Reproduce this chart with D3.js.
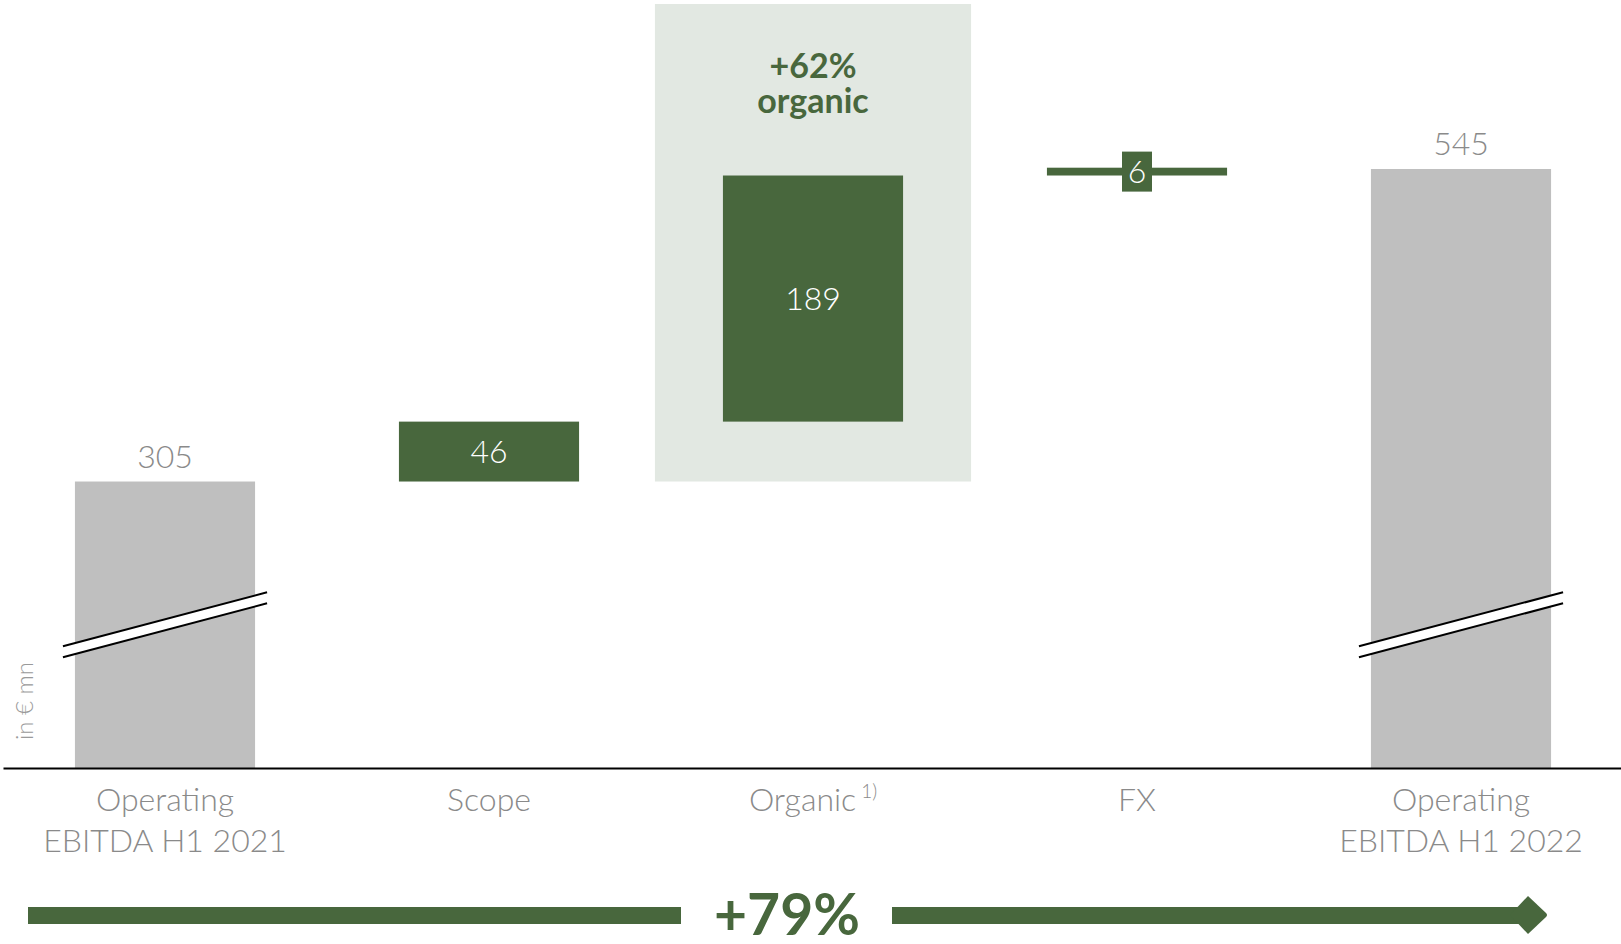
<!DOCTYPE html>
<html>
<head>
<meta charset="utf-8">
<script src="https://cdn.jsdelivr.net/npm/d3@7"></script>
<style>
  body { margin: 0; background: #fff; }
  svg { display: block; }
</style>
</head>
<body>
<div id="chart"></div>
<script>
// Chart data
//=====================================================================
var categories = ["H1 2021", "Scope", "Organic", "FX", "H1 2022"];
var labelLines = [["Operating", "EBITDA H1 2021"], ["Scope"], ["Organic"], ["FX"], ["Operating", "EBITDA H1 2022"]];
var values = [305, 46, 189, 6, 545];
var kinds = ["total", "delta", "delta", "delta", "total"];
var breakAt = [195, 195];   // where the axis-break marks sit on the total bars

var svgWidth = 1621;
var svgHeight = 944;
var green = "#48673d";
var grey = "#bfbfbf";
var textGrey = "#8a8a8a";

var svg = d3.select("#chart")
    .append("svg")
    .attr("width", svgWidth)
    .attr("height", svgHeight);

// Scales (the value axis is truncated, hence the break marks)
//=====================================================================
var x = d3.scaleBand()
    .domain(categories)
    .range([3, 1623])
    .paddingInner(0.444)
    .paddingOuter(0.222);

var y = d3.scaleLinear()
    .domain([85, 545])
    .range([768, 169]);

// build waterfall steps
var running = 0;
var steps = categories.map(function (c, i) {
    var s;
    if (kinds[i] == "total") {
        s = { cat: c, lo: y.domain()[0], hi: values[i], v: values[i], kind: "total" };
        running = values[i];
    } else {
        s = { cat: c, lo: running, hi: running + values[i], v: values[i], kind: "delta" };
        running += values[i];
    }
    return s;
});

// Organic highlight box
var organic = steps[2];
svg.append("rect")
    .attr("x", x("Organic") - 68)
    .attr("y", 4)
    .attr("width", x.bandwidth() + 136)
    .attr("height", y(steps[1].lo) - 4)
    .attr("fill", "#e2e8e2");

[d3.format("+.0%")(organic.v / values[0]), "organic"].forEach(function (t, i) {
    svg.append("text")
        .attr("x", x("Organic") + x.bandwidth() / 2)
        .attr("y", 78 + i * 35)
        .attr("text-anchor", "middle")
        .attr("fill", green)
        .style("font", "bold 34px Lato")
        .text(t);
});

// Bars
//=====================================================================
svg.selectAll("rect.bar")
    .data(steps)
    .enter()
    .append("rect")
    .attr("class", "bar")
    .attr("x", d => x(d.cat))
    .attr("y", d => y(d.hi))
    .attr("width", x.bandwidth())
    .attr("height", d => y(d.lo) - y(d.hi))
    .attr("fill", d => d.kind == "total" ? grey : green);

// Axis break marks
var totals = steps.filter(d => d.kind == "total");
totals.forEach(function (d, i) {
    var cx = x(d.cat) + x.bandwidth() / 2;
    var cy = y(breakAt[i]);
    var half = x.bandwidth() / 2 + 12;
    var dy = 27;
    var g = svg.append("g");
    g.append("polygon")
        .attr("points", [
            [cx - half, cy + dy - 5.5], [cx + half, cy - dy - 5.5],
            [cx + half, cy - dy + 5.5], [cx - half, cy + dy + 5.5]
        ].join(" "))
        .attr("fill", "#fff");
    [-5.5, 5.5].forEach(function (o) {
        g.append("line")
            .attr("x1", cx - half).attr("y1", cy + dy + o)
            .attr("x2", cx + half).attr("y2", cy - dy + o)
            .attr("stroke", "#000")
            .attr("stroke-width", 2);
    });
});

// Value labels
//=====================================================================
steps.forEach(function (d) {
    var cx = x(d.cat) + x.bandwidth() / 2;
    if (d.kind == "total") {
        svg.append("text")
            .attr("x", cx)
            .attr("y", y(d.hi) - 14)
            .attr("text-anchor", "middle")
            .attr("fill", textGrey)
            .style("font", "300 32px Lato")
            .text(d.v);
    } else {
        var mid = (y(d.lo) + y(d.hi)) / 2;
        if (y(d.lo) - y(d.hi) < 40) {
            svg.append("rect")
                .attr("x", cx - 15)
                .attr("y", mid - 20)
                .attr("width", 30)
                .attr("height", 40)
                .attr("fill", green);
        }
        svg.append("text")
            .attr("x", cx)
            .attr("y", mid)
            .attr("dy", "0.36em")
            .attr("text-anchor", "middle")
            .attr("fill", "#fff")
            .style("font", "300 32px Lato")
            .text(d.v);
    }
});

// Category axis
//=====================================================================
var bottomAxis = d3.axisBottom(x).tickSize(0).tickSizeOuter(0).tickFormat("");
var axisG = svg.append("g")
    .attr("transform", "translate(0, 768)")
    .call(bottomAxis);
axisG.select(".domain")
    .attr("stroke", "#000")
    .attr("stroke-width", 2);

axisG.selectAll(".tick").each(function (c, i) {
    var t = d3.select(this).append("text")
        .attr("text-anchor", "middle")
        .attr("fill", textGrey)
        .style("font", "300 32px Lato");
    labelLines[i].forEach(function (line, j) {
        t.append("tspan")
            .attr("x", 0)
            .attr("y", 43 + j * 41)
            .text(line);
    });
    if (c == "Organic") {
        t.append("tspan")
            .attr("dx", 5)
            .attr("dy", -13)
            .style("font-size", "19px")
            .text("1)");
    }
});

// unit label
svg.append("text")
    .attr("transform", "translate(33, 740) rotate(-90)")
    .attr("fill", "#9a9a9a")
    .style("font", "300 24px Lato")
    .text("in € mn");

// Total growth arrow
//=====================================================================
var growth = d3.format("+.0%")(values[4] / values[0] - 1);
svg.append("rect")
    .attr("x", 28).attr("y", 907)
    .attr("width", 653).attr("height", 17)
    .attr("fill", green);
svg.append("rect")
    .attr("x", 892).attr("y", 907)
    .attr("width", 632).attr("height", 17)
    .attr("fill", green);
svg.append("path")
    .attr("d", "M1510,915 L1528,896 L1546,913 Q1548,915 1546,917 L1528,934 Z")
    .attr("fill", green);
svg.append("text")
    .attr("x", 787)
    .attr("y", 935)
    .attr("text-anchor", "middle")
    .attr("fill", green)
    .style("font", "bold 57px Lato")
    .text(growth);
</script>
</body>
</html>
